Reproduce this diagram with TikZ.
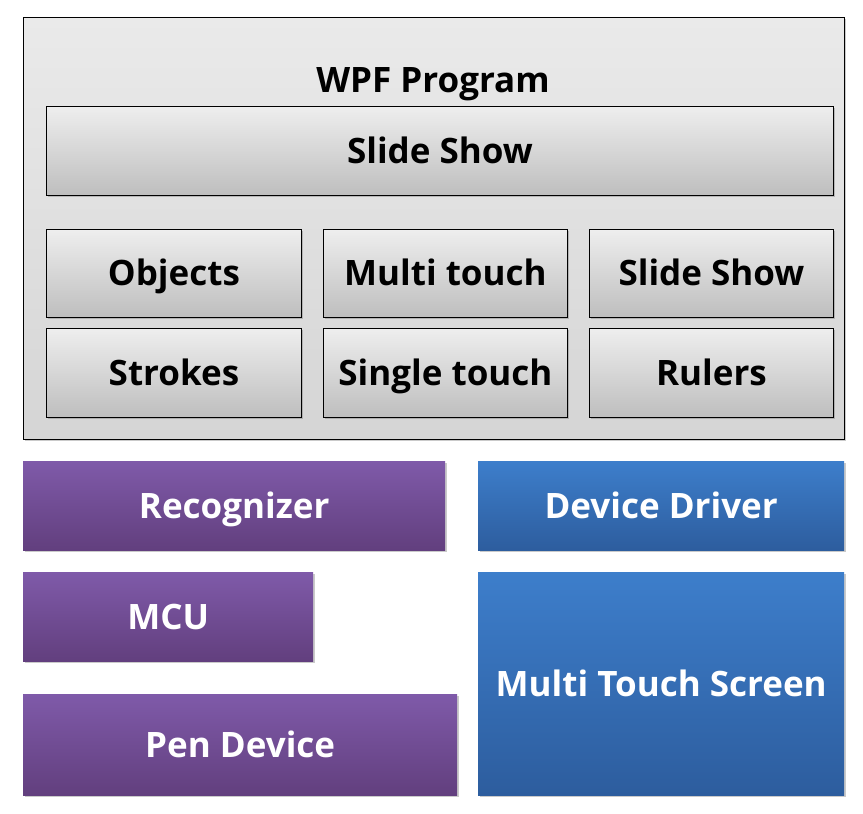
\documentclass[tikz,border=0pt]{standalone}
\usepackage{fontspec}
\setmainfont{Open Sans}
\usetikzlibrary{shadows}
\definecolor{grayTop}{HTML}{EEEEEE}
\definecolor{grayBot}{HTML}{BEBEBE}
\definecolor{panelTop}{HTML}{EAEAEA}
\definecolor{panelBot}{HTML}{D5D5D5}
\definecolor{purpTop}{HTML}{7F5AA9}
\definecolor{purpBot}{HTML}{623F7E}
\definecolor{blueTop}{HTML}{3D7ECB}
\definecolor{blueBot}{HTML}{2D5D9E}
\tikzset{
  shadowed/.style={drop shadow={opacity=0.35, shadow xshift=1.5pt, shadow yshift=-2pt, fill=black!60}},
  label text/.style={font=\bfseries\fontsize{35}{40}\selectfont, inner sep=0pt,
    text height=25pt, text depth=0pt},
  panel/.style={draw=black, line width=0.9pt, top color=panelTop, bottom color=panelBot, shadowed},
  graybox/.style={label text, draw=black, line width=0.9pt, top color=grayTop, bottom color=grayBot,
    shadowed, text=black},
  purplebox/.style={label text, draw=none, top color=purpTop, bottom color=purpBot, shadowed, text=white},
  bluebox/.style={label text, draw=none, top color=blueTop, bottom color=blueBot, shadowed, text=white},
  title/.style={label text, text=black}
}
\begin{document}
\begin{tikzpicture}[x=1pt, y=-1pt]
\useasboundingbox (0,0) rectangle (863,814);
% WPF panel
\node[panel, anchor=north west, minimum width=821pt, minimum height=422pt] (wpf) at (23,17) {};
\node[title] (wpftitle) at (433,80) {WPF Program};
% Gray modules
\node[graybox, anchor=north west, minimum width=787pt, minimum height=89pt] (slides) at (46,106) {Slide Show};
\node[graybox, anchor=north west, minimum width=255pt, minimum height=88pt] (objects) at (46,229) {Objects};
\node[graybox, anchor=north west, minimum width=244pt, minimum height=88pt] (multi) at (323,229) {Multi touch};
\node[graybox, anchor=north west, minimum width=244pt, minimum height=88pt] (slides2) at (589,229) {Slide Show};
\node[graybox, anchor=north west, minimum width=255pt, minimum height=89pt] (strokes) at (46,328) {Strokes};
\node[graybox, anchor=north west, minimum width=244pt, minimum height=89pt] (single) at (323,328) {Single touch};
\node[graybox, anchor=north west, minimum width=244pt, minimum height=89pt] (rulers) at (589,328) {Rulers};
% Pen stack
\node[purplebox, anchor=north west, minimum width=422pt, minimum height=89pt] (recog) at (23,461) {Recognizer};
\node[purplebox, anchor=north west, minimum width=290pt, minimum height=89pt] (mcu) at (23,572) {MCU};
\node[purplebox, anchor=north west, minimum width=434pt, minimum height=101pt] (pen) at (23,694) {Pen Device};
% Touch stack
\node[bluebox, anchor=north west, minimum width=366pt, minimum height=89pt] (driver) at (478,461) {Device Driver};
\node[bluebox, anchor=north west, minimum width=366pt, minimum height=223pt] (screen) at (478,572) {Multi Touch Screen};
\end{tikzpicture}
\end{document}
